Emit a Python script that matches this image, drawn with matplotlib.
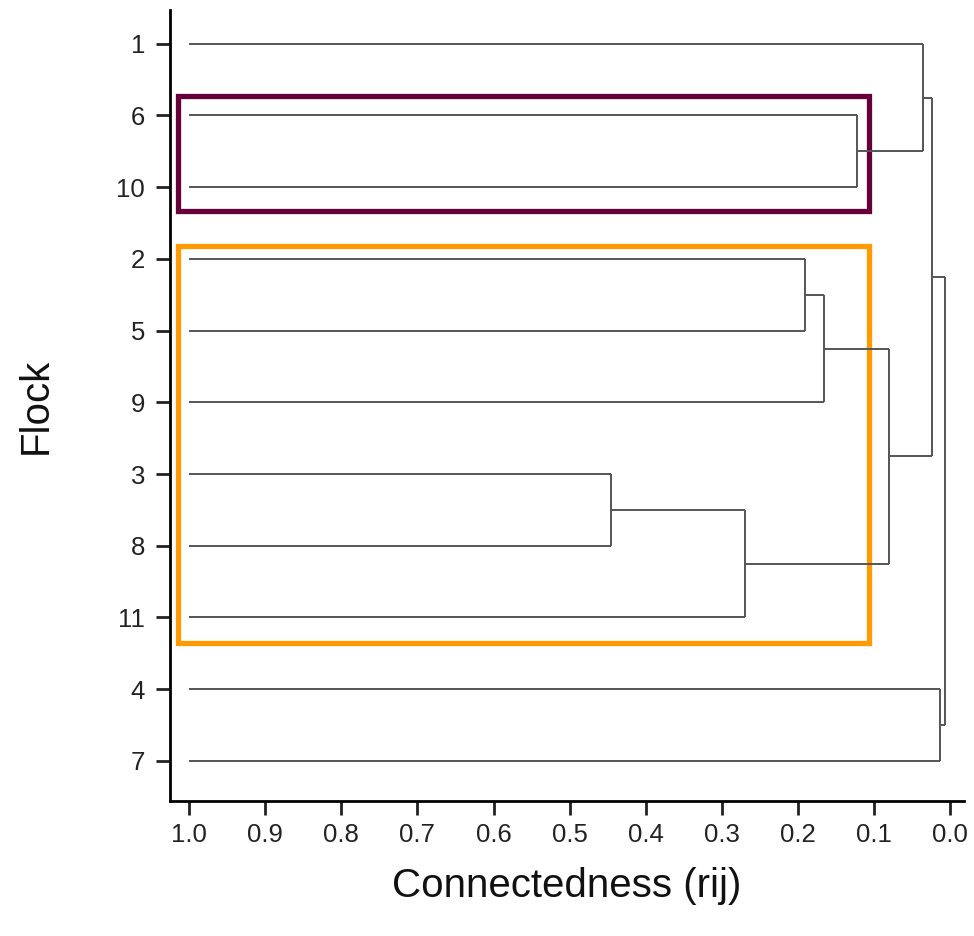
import matplotlib
matplotlib.use("Agg")
import matplotlib.pyplot as plt
from matplotlib.patches import Rectangle

plt.rcParams["font.family"] = ["Liberation Sans", "DejaVu Sans"]

# leaf order, top to bottom
leaves = ["1", "6", "10", "2", "5", "9", "3", "8", "11", "4", "7"]

# merges: (child a, child b, connectedness at join); "mN" = result of merge N
merge_a = ["6", "1", "2", "m2", "3", "m4", "m3", "m1", "4", "m7"]
merge_b = ["10", "m0", "5", "9", "8", "11", "m5", "m6", "7", "m8"]
merge_h = [0.123, 0.036, 0.191, 0.166, 0.446, 0.270, 0.080, 0.024, 0.013, 0.0066]

# highlighted groups (first leaf, last leaf, right-hand edge)
box_first = ["6", "2"]
box_last = ["10", "11"]
box_right = [0.107, 0.107]
box_colors = ["#66003a", "#ff9a00"]
box_top_pad = [0.27, 0.18]
box_bot_pad = [0.33, 0.35]

xticks = [1.0, 0.9, 0.8, 0.7, 0.6, 0.5, 0.4, 0.3, 0.2, 0.1, 0.0]

line_col = "#555555"

fig = plt.figure(figsize=(9.74, 9.36), dpi=100)
ax = fig.add_axes([0.1745, 0.1442, 0.8152, 0.8451])

pos = {name: (i, 1.0) for i, name in enumerate(leaves)}
for k, (a, b, h) in enumerate(zip(merge_a, merge_b, merge_h)):
    ya, ha = pos[a]
    yb, hb = pos[b]
    ax.plot([ha, h], [ya, ya], color=line_col, lw=1.4, solid_capstyle="butt")
    ax.plot([hb, h], [yb, yb], color=line_col, lw=1.4, solid_capstyle="butt")
    ax.plot([h, h], [ya, yb], color=line_col, lw=1.4, solid_capstyle="butt")
    pos["m%d" % k] = ((ya + yb) / 2, h)

for first, last, right, col, tp, bp in zip(box_first, box_last, box_right,
                                           box_colors, box_top_pad, box_bot_pad):
    y0 = leaves.index(first) - tp
    y1 = leaves.index(last) + bp
    ax.add_patch(Rectangle((1.015, y0), right - 1.015, y1 - y0, fill=False,
                           edgecolor=col, lw=3.8, joinstyle="miter"))

ax.set_xlim(1.025, -0.018)
ax.set_ylim(10.56, -0.47)
ax.set_xticks(xticks)
ax.set_xticklabels(["%.1f" % v for v in xticks])
ax.set_yticks(range(len(leaves)))
ax.set_yticklabels(leaves)

for s in ["top", "right"]:
    ax.spines[s].set_visible(False)
for s in ["left", "bottom"]:
    ax.spines[s].set_linewidth(2)
ax.tick_params(direction="out", length=10, width=2, labelsize=18.5,
               colors="#222222", pad=6)
ax.tick_params(axis="y", pad=8)

ax.set_xlabel("Connectedness (rij)", fontsize=29, labelpad=14, color="#111111")
ax.set_ylabel("Flock", fontsize=29, labelpad=44, color="#111111")

fig.savefig("out.png", dpi=100)
